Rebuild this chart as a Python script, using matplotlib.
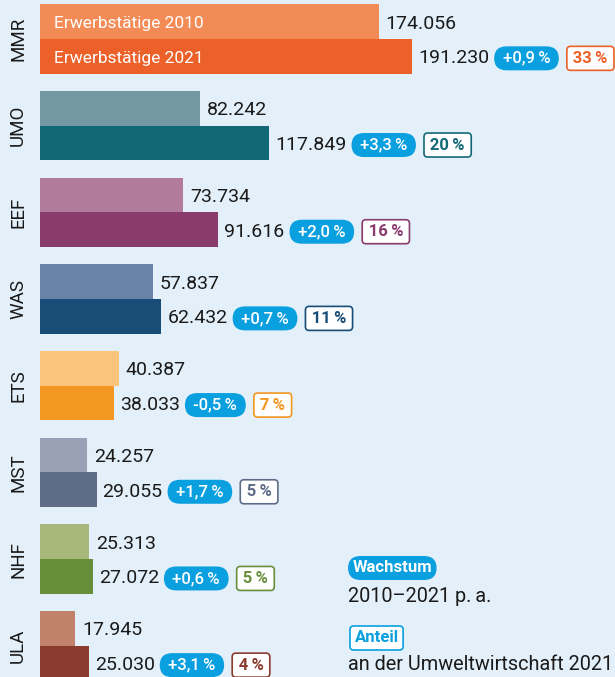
import matplotlib
matplotlib.use("Agg")
import matplotlib.pyplot as plt
import numpy as np

# ---------------- data ----------------
categories = ["MMR", "UMO", "EEF", "WAS", "ETS", "MST", "NHF", "ULA"]
values_2010 = [174056, 82242, 73734, 57837, 40387, 24257, 25313, 17945]
values_2021 = [191230, 117849, 91616, 62432, 38033, 29055, 27072, 25030]
growth = ["+0,9\u2009%", "+3,3\u2009%", "+2,0\u2009%", "+0,7\u2009%", "-0,5\u2009%", "+1,7\u2009%", "+0,6\u2009%", "+3,1\u2009%"]
share = ["33\u2009%", "20\u2009%", "16\u2009%", "11\u2009%", "7\u2009%", "5\u2009%", "5\u2009%", "4\u2009%"]
series_labels = ["Erwerbstätige 2010", "Erwerbstätige 2021"]
legend_growth = ["Wachstum", "2010\u20132021 p.\u2009a."]
legend_share = ["Anteil", "an der Umweltwirtschaft 2021"]

colors_2010 = ["#f28b56", "#7499a5", "#b37b9b", "#6a84a9", "#fbc47b", "#9aa1b6", "#a7b87b", "#c0826a"]
colors_2021 = ["#ec6129", "#136876", "#893b6d", "#184d78", "#f39622", "#5f6c88", "#678e3a", "#8b3b2e"]

BG = "#e3f0fa"
BLUE = "#0a9fdf"
TXT = "#1a1a1a"

plt.rcParams["font.family"] = ["Roboto", "DejaVu Sans"]

W, H = 615, 677
DPI = 100
PX = 72.0 / DPI  # points per pixel
HS = "\u200a"

fig = plt.figure(figsize=(W / DPI, H / DPI), dpi=DPI)
fig.patch.set_facecolor(BG)
ax = fig.add_axes([40 / W, 0, 1 - 40 / W, 1])
ax.set_facecolor(BG)
ax.axis("off")

n = len(categories)
y = np.arange(n)
h = 0.40
ax.barh(y - h / 2, values_2010, height=h, color=colors_2010, linewidth=0)
ax.barh(y + h / 2, values_2021, height=h, color=colors_2021, linewidth=0)
ax.set_xlim(0, 295600)
ax.set_ylim(7.36, -0.45)

def fmt(v):
    return f"{v:,}".replace(",", ".")

VAL_FS = 14
PILL_FS = 12
pill_pad = 0.27
pill_pad_pt = pill_pad * PILL_FS
DY = -2 * PX

for i in range(n):
    # category label
    ax.text(-22 / 575, y[i], categories[i], transform=ax.get_yaxis_transform(),
            rotation=90, ha="center", va="center", fontsize=13.5, color=TXT, clip_on=False)
    # value labels
    ax.annotate(fmt(values_2010[i]), xy=(values_2010[i], y[i] - h / 2), xytext=(7 * PX, DY),
                textcoords="offset points", ha="left", va="center", fontsize=VAL_FS, color=TXT)
    t = ax.annotate(fmt(values_2021[i]), xy=(values_2021[i], y[i] + h / 2), xytext=(6 * PX, DY),
                    textcoords="offset points", ha="left", va="center", fontsize=VAL_FS, color=TXT)
    g = ax.annotate(" " + growth[i] + " ", xy=(1, 0.5), xycoords=t,
                    xytext=(5 * PX + pill_pad_pt, 0), textcoords="offset points",
                    ha="left", va="center", fontsize=PILL_FS, color="white", fontweight="medium",
                    bbox=dict(boxstyle=f"round,pad={pill_pad},rounding_size=0.75", fc=BLUE, ec="none"))
    ax.annotate(HS + share[i] + HS, xy=(1, 0.5), xycoords=g,
                xytext=(pill_pad_pt + 8 * PX + pill_pad_pt, 0), textcoords="offset points",
                ha="left", va="center", fontsize=PILL_FS, color=colors_2021[i], fontweight="bold",
                bbox=dict(boxstyle=f"round,pad={pill_pad},rounding_size=0.22", fc="white",
                          ec=colors_2021[i], lw=1.2))

# series labels inside the first bars
for k, yy in enumerate([y[0] - h / 2, y[0] + h / 2]):
    ax.annotate(series_labels[k], xy=(0, yy), xytext=(14 * PX, DY), textcoords="offset points",
                ha="left", va="center", fontsize=12.5, color="white")

# legend bottom-right (figure pixel coordinates)
def fx(px):
    return px / W

def fy(py):
    return 1 - py / H

pad_px = pill_pad_pt / 72 * DPI
fig.text(fx(348 + pad_px), fy(568), legend_growth[0], ha="left", va="center",
         fontsize=PILL_FS, color="white", fontweight="bold",
         bbox=dict(boxstyle=f"round,pad={pill_pad},rounding_size=0.75", fc=BLUE, ec="none"))
fig.text(fx(348), fy(597), legend_growth[1], ha="left", va="center", fontsize=14.3, color=TXT)
fig.text(fx(350 + pad_px), fy(638), legend_share[0], ha="left", va="center",
         fontsize=PILL_FS, color=BLUE, fontweight="bold",
         bbox=dict(boxstyle=f"round,pad={pill_pad},rounding_size=0.22", fc="white", ec=BLUE, lw=1.2))
fig.text(fx(348), fy(664), legend_share[1], ha="left", va="center", fontsize=14.3, color=TXT)

fig.savefig("out.png", dpi=DPI, facecolor=BG)
